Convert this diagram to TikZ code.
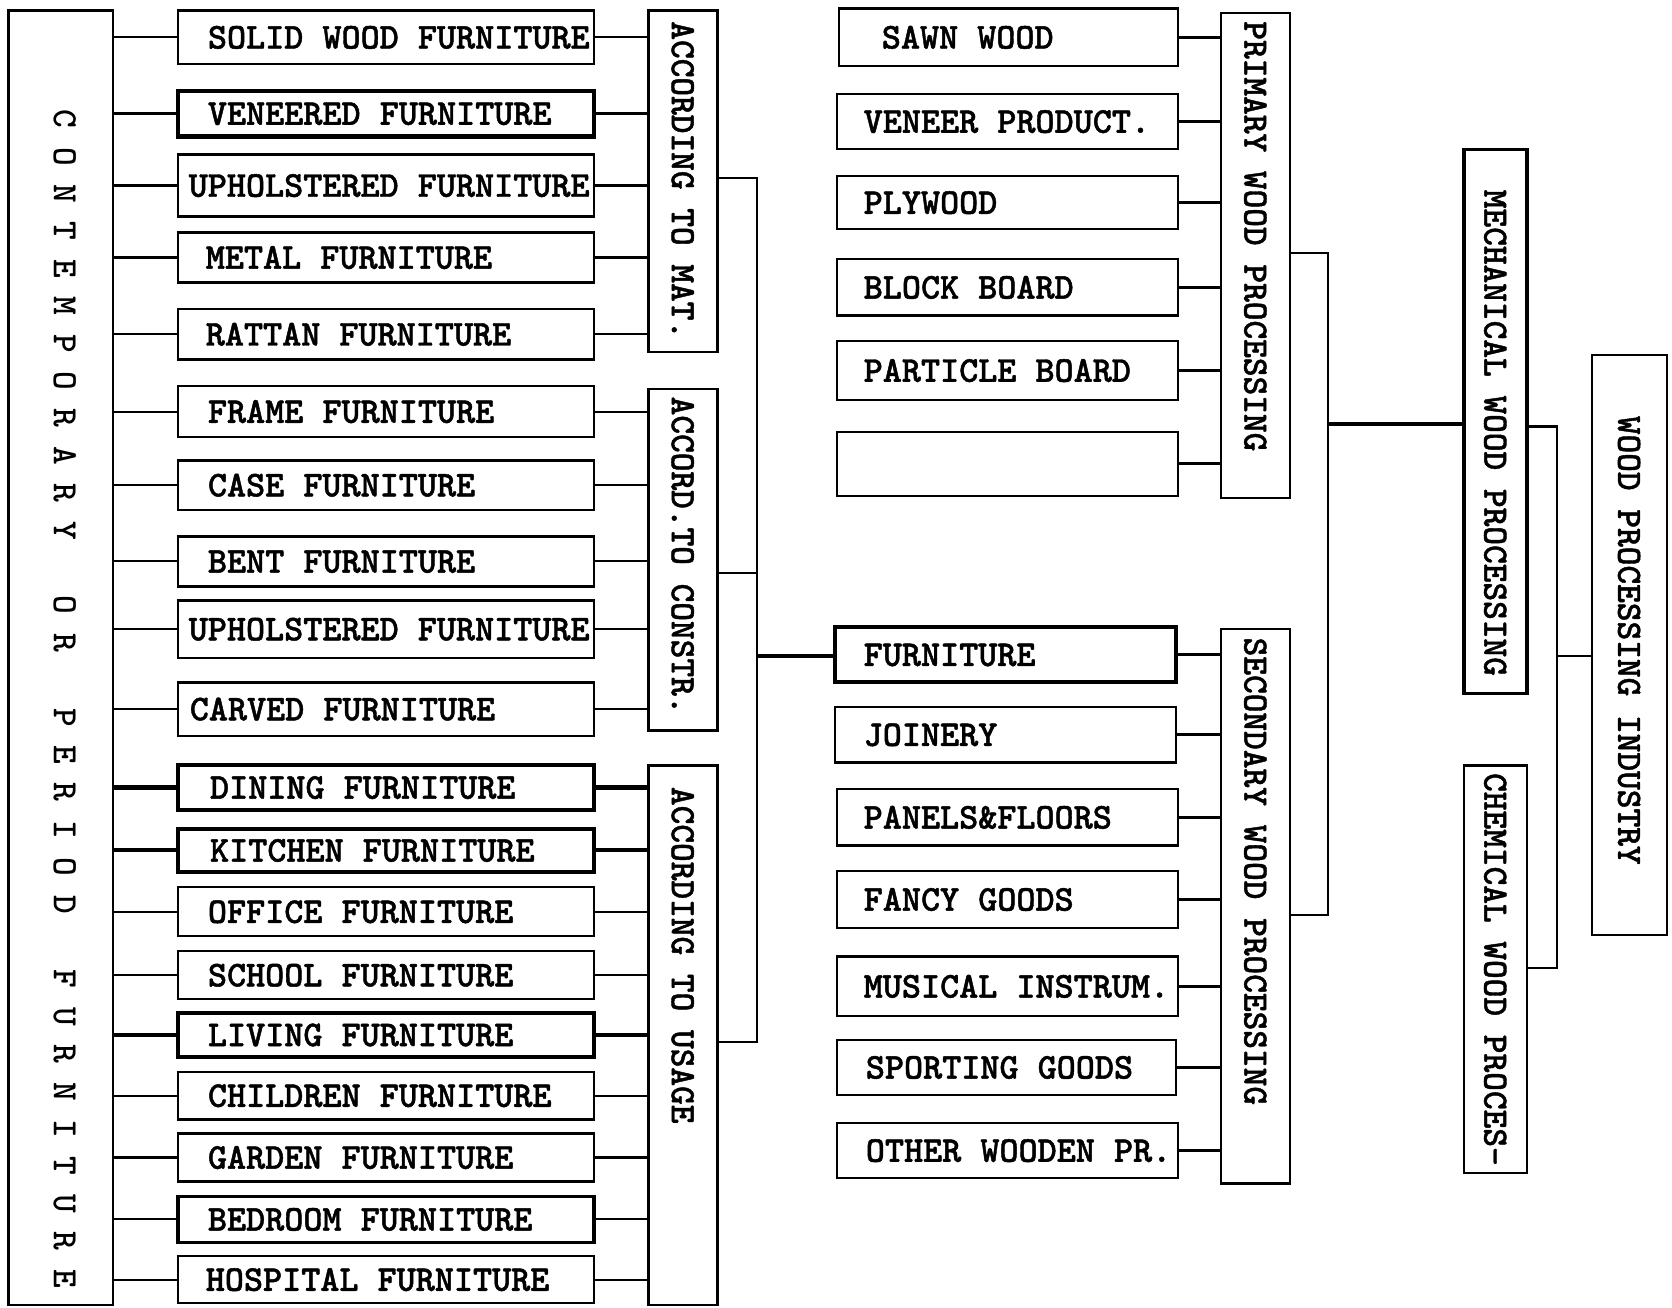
\documentclass[tikz,border=0pt]{standalone}
\usepackage{fontspec}
\newfontfamily\tw{lmmonolt10-bold.otf}[FakeBold=1.2]
\newfontfamily\twr{lmmonolt10-bold.otf}
\newcommand\tx[2][34.1]{{\tw\fontsize{#1}{#1}\selectfont #2}}
\tikzset{
  box/.style={draw, line width=2.2pt, inner sep=0pt, outer sep=0pt},
  thk/.style={line width=3.8pt},
  ln/.style={line width=2pt}
}
% horizontal box: [style]{name}{x1}{y1}{x2}{y2}{text x}{text}
\newcommand\hbx[8][]{%
  \pgfmathsetmacro\bw{#5-#3}\pgfmathsetmacro\bh{#6-#4}%
  \pgfmathsetmacro\bcx{(#3+#5)/2}\pgfmathsetmacro\bcy{(#4+#6)/2}%
  \pgfmathsetmacro\bo{#7-#3}%
  \node[box,#1,minimum height=\bh pt] (#2) at (\bcx,\bcy)
    {\makebox[\bw pt][l]{\hspace{\bo pt}\smash{\tx{#8}}\rule{0pt}{21pt}}};}
% vertical box with text rotated: [style]{name}{x1}{y1}{x2}{y2}{text y}{text}
\newcommand\vbx[8][]{%
  \pgfmathsetmacro\bw{#5-#3}\pgfmathsetmacro\bh{#6-#4}%
  \pgfmathsetmacro\bcx{(#3+#5)/2}\pgfmathsetmacro\bcy{(#4+#6)/2}%
  \pgfmathsetmacro\bo{#7-#4}%
  \node[box,#1,minimum width=\bw pt,minimum height=\bh pt] (#2) at (\bcx,\bcy)
    {\rotatebox{-90}{\makebox[\bh pt][l]{\hspace{\bo pt}\smash{\tx[33.4]{#8}}\rule{0pt}{21pt}}}};}
\begin{document}
\begin{tikzpicture}[x=1pt,y=-1pt]
\fill[white] (0,0) rectangle (1568,1226);
\useasboundingbox (0,0) rectangle (1568,1226);

% left column
\vbx{L}{8}{10}{106}{1224}{103}{\raisebox{4pt}{\twr C~O~N~T~E~M~P~O~R~A~R~Y~~~O~R~~~P~E~R~I~O~D~~~F~U~R~N~I~T~U~R~E}}

% furniture types
\hbx{f1}{167}{10}{557}{60}{195}{SOLID WOOD FURNITURE}
\hbx[thk]{f2}{167}{85}{557}{128}{195}{VENEERED FURNITURE}
\hbx{f3}{167}{145}{557}{203}{177}{UPHOLSTERED FURNITURE}
\hbx{f4}{167}{218}{557}{265}{193}{METAL FURNITURE}
\hbx{f5}{167}{290}{557}{337}{193}{RATTAN FURNITURE}
\hbx{f6}{167}{362}{557}{410}{195}{FRAME FURNITURE}
\hbx{f7}{167}{432}{557}{478}{195}{CASE FURNITURE}
\hbx{f8}{167}{503}{557}{550}{195}{BENT FURNITURE}
\hbx{f9}{167}{563}{557}{617}{177}{UPHOLSTERED FURNITURE}
\hbx{f10}{167}{640}{557}{690}{178}{CARVED FURNITURE}
\hbx[thk]{f11}{167}{717}{557}{760}{197}{DINING FURNITURE}
\hbx[thk]{f12}{167}{777}{557}{818}{197}{KITCHEN FURNITURE}
\hbx{f13}{167}{832}{557}{878}{195}{OFFICE FURNITURE}
\hbx{f14}{167}{892}{557}{937}{195}{SCHOOL FURNITURE}
\hbx[thk]{f15}{167}{950}{557}{991}{195}{LIVING FURNITURE}
\hbx{f16}{167}{1005}{557}{1050}{195}{CHILDREN FURNITURE}
\hbx{f17}{167}{1063}{557}{1108}{195}{GARDEN FURNITURE}
\hbx[line width=3pt]{f18}{167}{1122}{557}{1165}{195}{BEDROOM FURNITURE}
\hbx{f19}{167}{1178}{557}{1222}{193}{HOSPITAL FURNITURE}

% categories
\vbx{mat}{608}{10}{673}{330}{20}{ACCORDING TO MAT.}
\vbx{con}{608}{365}{673}{685}{372}{ACCORD.TO CONSTR.}
\vbx{use}{608}{718}{673}{1224}{738}{ACCORDING TO USAGE}

% products
\hbx{s1}{787}{8}{1105}{62}{827}{SAWN WOOD}
\hbx{s2}{785}{88}{1105}{140}{810}{VENEER PRODUCT.}
\hbx{s3}{785}{165}{1105}{215}{810}{PLYWOOD}
\hbx{s4}{785}{243}{1105}{296}{810}{BLOCK BOARD}
\hbx{s5}{785}{320}{1105}{375}{810}{PARTICLE BOARD}
\hbx{s6}{785}{405}{1105}{465}{810}{}
\hbx[thk]{t1}{783}{588}{1103}{640}{810}{FURNITURE}
\hbx{t2}{783}{663}{1103}{715}{810}{JOINERY}
\hbx{t3}{785}{740}{1105}{793}{810}{PANELS\&FLOORS}
\hbx{t4}{785}{817}{1105}{870}{810}{FANCY GOODS}
\hbx{t5}{785}{897}{1105}{953}{810}{MUSICAL INSTRUM.}
\hbx{t6}{785}{975}{1103}{1027}{812}{SPORTING GOODS}
\hbx{t7}{785}{1053}{1105}{1105}{812}{OTHER WOODEN PR.}

\vbx{pri}{1145}{12}{1210}{467}{20}{PRIMARY WOOD PROCESSING}
\vbx{sec}{1145}{590}{1210}{1110}{598}{SECONDARY WOOD PROCESSING}
\vbx[line width=3pt]{mec}{1373}{140}{1432}{650}{178}{MECHANICAL WOOD PROCESSING}
\vbx{che}{1373}{718}{1432}{1100}{725}{CHEMICAL WOOD PROCES-}
\vbx{wpi}{1493}{333}{1563}{877}{390}{WOOD PROCESSING INDUSTRY}

% connectors left
\foreach \i in {1,...,10,13,14,16,17,18,19}{\draw[ln] (L.east |- f\i) -- (f\i.west);}
\foreach \i in {11,12,15}{\draw[thk] (L.east |- f\i) -- (f\i.west);}
\foreach \i in {1,...,5}{\draw[ln] (f\i.east) -- (f\i.east -| mat.west);}
\foreach \i in {6,...,10}{\draw[ln] (f\i.east) -- (f\i.east -| con.west);}
\foreach \i in {13,14,16,17,18,19}{\draw[ln] (f\i.east) -- (f\i.east -| use.west);}
\foreach \i in {11,12,15}{\draw[thk] (f\i.east) -- (f\i.east -| use.west);}

\coordinate (j1) at (710,615);
\draw[ln] (mat.east |- 0,167) -| (j1);
\draw[ln] (con.east |- 0,537) -| (j1);
\draw[ln] (use.east |- 0,977) -| (j1);
\draw[thk] (j1) -- (j1 -| t1.west);

\foreach \i in {1,...,6}{\draw[line width=2.6pt] (s\i.east) -- (s\i.east -| pri.west);}
\foreach \i in {1,...,7}{\draw[line width=2.6pt] (t\i.east) -- (t\i.east -| sec.west);}

\coordinate (j2) at (1245,398);
\draw[ln] (pri.east |- 0,237) -| (j2);
\draw[ln] (sec.east |- 0,858) -| (j2);
\draw[thk] (j2) -- (j2 -| mec.west);

\coordinate (j3) at (1460,615);
\draw[ln] (mec.east |- 0,400) -| (j3);
\draw[ln] (che.east |- 0,908) -| (j3);
\draw[ln] (j3) -- (j3 -| wpi.west);
\end{tikzpicture}
\end{document}
